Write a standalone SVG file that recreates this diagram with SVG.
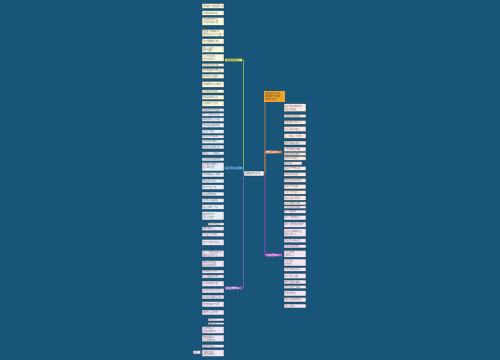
<svg xmlns="http://www.w3.org/2000/svg" width="500" height="360" viewBox="0 0 500 360">
<style>
text{font-family:"Noto Sans CJK SC","Noto Sans",sans-serif;font-size:1.85px;fill:#6a6a6a}
.ly{fill:#fbf9dc;stroke:#24465c;stroke-width:.5}
.lb{fill:#e6eefa;stroke:#24465c;stroke-width:.5}
.lp{fill:#eee6f6;stroke:#24465c;stroke-width:.5}
.lo{fill:#fde9e2;stroke:#24465c;stroke-width:.5}
.lm{fill:#f6e6f4;stroke:#24465c;stroke-width:.5}
.br text{font-size:1.9px;fill:#333}
.cn{fill:none;stroke-width:.6}
</style>
<rect width="500" height="360" fill="#195578"/>
<g id="connectors">
<path class="cn" stroke="#cfdc55" d="M244 173H243.5V60H242"/>
<path class="cn" stroke="#5aa6e0" d="M244 173H243.5V168H242"/>
<path class="cn" stroke="#9b63cf" d="M244 173H243.5V288H242"/>
<path class="cn" stroke="#f2a22a" d="M264 173H265V102"/>
<path class="cn" stroke="#e8764a" d="M264 173H265V152"/>
<path class="cn" stroke="#c64fc9" d="M264 173H265V255"/>
<path class="cn" stroke="#9b63cf" stroke-width=".4" d="M202 353H200.7"/>
</g>
<g id="center"><rect x="244" y="171" width="20" height="5" fill="#f5f5f5" stroke="#1c3b50" stroke-width=".5"/><text x="245.5" y="174.2" style="fill:#333">经典情感句子精选</text></g>
<g id="b1" class="br"><rect x="225" y="58.7" width="17" height="2.6" fill="#dfe85e"/><text x="226" y="60.6">温暖治愈的句子</text></g>
<g id="b2" class="br"><rect x="225" y="166.7" width="17" height="2.6" fill="#5aa6e0"/><text x="226" y="168.6">伤感走心的句子</text></g>
<g id="b3" class="br"><rect x="225" y="286.7" width="17" height="2.6" fill="#9b63cf"/><text x="226" y="288.6" style="fill:#fff">励志正能量句子</text></g>
<g id="b4" class="br"><rect x="264" y="91" width="21" height="11" fill="#f2a22a"/><text x="265" y="94">经典情感句子精选</text><text x="265" y="96.8">收录温暖与伤感的</text><text x="265" y="99.6">优美句子合集</text></g>
<g id="b5" class="br"><rect x="265" y="150.7" width="17" height="2.6" fill="#e8764a"/><text x="266" y="152.6" style="fill:#fff">唯美爱情的句子</text></g>
<g id="b6" class="br"><rect x="265" y="253.7" width="17" height="2.6" fill="#c64fc9"/><text x="266" y="255.6" style="fill:#fff">人生感悟的句子</text></g>
<g id="L1"><rect class="ly" x="202" y="3.5" width="22" height="5"/><text x="203" y="6.6">愿你被这个世界温柔以待</text></g>
<g id="L2"><rect class="ly" x="202" y="10.7" width="22" height="4.6"/><text x="203" y="13.6">心有所向必有精进</text></g>
<g id="L3"><rect class="ly" x="202" y="17.3" width="22" height="8"/><text x="203" y="20.3">生活明朗万物可爱</text><text x="203" y="23.3">人间值得未来可期</text></g>
<g id="L4"><rect class="ly" x="202" y="29.3" width="22" height="7.4"/><text x="203" y="32.2">慢慢来一切都来得及</text><text x="203" y="35">温柔的人运气不会太差</text></g>
<g id="L5"><rect class="ly" x="202" y="38.7" width="22" height="5.3"/><text x="203" y="42">今天也要做快乐的人</text></g>
<g id="L6"><rect class="ly" x="202" y="46" width="22" height="6.7"/><text x="203" y="48.8">把日子过成诗</text><text x="203" y="51.4">简单而温暖</text></g>
<g id="L7"><rect class="ly" x="202" y="54" width="22" height="7.3"/><text x="203" y="56.9">星光不问赶路人</text><text x="203" y="59.7">时光不负有心人</text></g>
<g id="L8"><rect class="ly" x="202" y="63.3" width="22" height="3.4"/><text x="203" y="65.6">保持热爱奔赴山海</text></g>
<g id="L9"><rect class="ly" x="202" y="68.3" width="22" height="4.4"/><text x="203" y="71.1">所有美好都会如期而至</text></g>
<g id="L10"><rect class="ly" x="202" y="74" width="22" height="4.7"/><text x="203" y="77">晚风温柔月色很美</text></g>
<g id="L11"><rect class="ly" x="202" y="81.3" width="22" height="6"/><text x="203" y="84.9">愿你眼里有光心中有爱</text></g>
<g id="L12"><rect class="ly" x="202" y="89.7" width="22" height="3.3"/><text x="203" y="92">岁月静好现世安稳</text></g>
<g id="L13"><rect class="ly" x="202" y="95" width="22" height="4.7"/><text x="203" y="98">你若安好便是晴天</text></g>
<g id="L14"><rect class="ly" x="202" y="101" width="22" height="5.3"/><text x="203" y="104.3">心若向阳无畏悲伤</text></g>
<g id="L15"><rect class="lb" x="202" y="108.3" width="22" height="3.4"/><text x="203" y="110.6">后来的我们各自安好</text></g>
<g id="L16"><rect class="lb" x="202" y="113" width="22" height="3.3"/><text x="203" y="115.3">有些人注定只是过客</text></g>
<g id="L17"><rect class="lb" x="202" y="117.6" width="22" height="4"/><text x="203" y="120.2">满身疲惫却无人诉说</text></g>
<g id="L18"><rect class="lb" x="202" y="123" width="22" height="4.7"/><text x="203" y="126">笑着说出最难过的话</text></g>
<g id="L19"><rect class="lb" x="202" y="129.7" width="22" height="4"/><text x="203" y="132.3">回忆是一座桥</text></g>
<g id="L20"><rect class="lb" x="202" y="135" width="22" height="3.3"/><text x="203" y="137.3">再也回不去的从前</text></g>
<g id="L21"><rect class="lb" x="202" y="139.7" width="22" height="4"/><text x="203" y="142.3">失望攒够了就离开了</text></g>
<g id="L22"><rect class="lb" x="202" y="145" width="22" height="4"/><text x="203" y="147.6">你的名字是我的心事</text></g>
<g id="L23"><rect class="lb" x="202" y="151.7" width="22" height="3.3"/><text x="203" y="154">终究是一个人的故事</text></g>
<g id="L24"><rect class="lb" x="202" y="157.7" width="22" height="3.3"/><text x="203" y="160">不是所有等待都有结果</text></g>
<g id="L25"><rect class="lb" x="202" y="162.3" width="22" height="8.7"/><text x="203" y="165.4">我们都是孤独的人</text><text x="203" y="168.4">在人海里走散</text></g>
<g id="L26"><rect class="lb" x="202" y="172.3" width="22" height="4.7"/><text x="203" y="175.3">深夜的眼泪无人知晓</text></g>
<g id="L27"><rect class="lb" x="202" y="179" width="22" height="4"/><text x="203" y="181.6">原来真的会忘记</text></g>
<g id="L28"><rect class="lb" x="202" y="184.7" width="22" height="4.8"/><text x="203" y="187.7">时间会带走一切</text></g>
<g id="L29"><rect class="lb" x="202" y="192" width="22" height="4"/><text x="203" y="194.6">我还在原地等你</text></g>
<g id="L30"><rect class="lb" x="202" y="198.5" width="22" height="4"/><text x="203" y="201.1">心碎的声音很安静</text></g>
<g id="L31"><rect class="lb" x="202" y="204.5" width="22" height="4.8"/><text x="203" y="207.5">错过了就是一辈子</text></g>
<g id="L32"><rect class="lb" x="202" y="211.5" width="22" height="8.5"/><text x="203" y="214.5">热闹是他们的</text><text x="203" y="217.5">我什么也没有</text></g>
<g id="L33"><rect class="lp" x="208" y="222.7" width="16" height="2.6"/><text x="209" y="224.6">努力才有希望</text></g>
<g id="L34"><rect class="lp" x="202" y="226.7" width="22" height="4"/><text x="203" y="229.3">越努力越幸运</text></g>
<g id="L35"><rect class="lp" x="202" y="232.7" width="22" height="4"/><text x="203" y="235.3">不负韶华只争朝夕</text></g>
<g id="L36"><rect class="lp" x="202" y="239.3" width="22" height="6"/><text x="203" y="242.9">坚持下去终会看见光</text></g>
<g id="L37"><rect class="lp" x="202" y="250.3" width="22" height="6.7"/><text x="203" y="253.1">每一个不曾起舞的日子</text><text x="203" y="255.7">都是对生命的辜负</text></g>
<g id="L38"><rect class="lp" x="202" y="260.5" width="22" height="6.5"/><text x="203" y="263.2">前路漫漫亦灿灿</text><text x="203" y="265.8">往事堪堪亦澜澜</text></g>
<g id="L39"><rect class="lp" x="202" y="270" width="22" height="3.3"/><text x="203" y="272.3">乾坤未定皆是黑马</text></g>
<g id="L40"><rect class="lp" x="202" y="274.8" width="22" height="3.3"/><text x="203" y="277.1">行而不辍未来可期</text></g>
<g id="L41"><rect class="lp" x="202" y="281" width="22" height="5.5"/><text x="203" y="284.4">心之所向素履以往</text></g>
<g id="L42"><rect class="lp" x="202" y="288.4" width="22" height="4.6"/><text x="203" y="291.4">追光的人终会光芒万丈</text></g>
<g id="L43"><rect class="lp" x="202" y="295" width="22" height="4"/><text x="203" y="297.6">逆风的方向更适合飞翔</text></g>
<g id="L44"><rect class="lp" x="202" y="301.5" width="22" height="5.5"/><text x="203" y="304.9">所有努力都不会白费</text></g>
<g id="L45"><rect class="lp" x="202" y="310" width="22" height="5"/><text x="203" y="313.2">相信自己无所不能</text></g>
<g id="L46"><rect class="lp" x="208" y="318.2" width="16" height="2.8"/><text x="209" y="320.2">加油少年</text></g>
<g id="L47"><rect class="lp" x="208" y="322.5" width="16" height="2.2"/><text x="209" y="324.2">勇往直前</text></g>
<g id="L48"><rect class="lp" x="202" y="326.5" width="22" height="7"/><text x="203" y="329.3">生活原本沉闷</text><text x="203" y="332.1">但跑起来就有风</text></g>
<g id="L49"><rect class="lp" x="202" y="335" width="22" height="6.8"/><text x="203" y="337.8">你要悄悄拔尖</text><text x="203" y="340.6">然后惊艳所有人</text></g>
<g id="L50"><rect class="lp" x="202" y="344.5" width="22" height="3.3"/><text x="203" y="346.8">梦想终会实现</text></g>
<g id="L51"><rect class="lp" x="202" y="349.8" width="22" height="6.7"/><text x="203" y="352.6">不要停下脚步</text><text x="203" y="355.2">向着目标前进</text></g>
<g id="L52"><rect class="lp" x="193" y="350.5" width="7.7" height="3.5"/><text x="194" y="352.9">坚持</text></g>
<g id="R1"><rect class="lo" x="284" y="103.7" width="22" height="8"/><text x="285" y="106.7">遇见你是最美的意外</text><text x="285" y="109.7">余生请多指教</text></g>
<g id="R2"><rect class="lo" x="284" y="114.3" width="22" height="3.4"/><text x="285" y="116.6">喜欢你是我的秘密</text></g>
<g id="R3"><rect class="lo" x="284" y="120.3" width="22" height="4"/><text x="285" y="122.9">我想和你一起看星星</text></g>
<g id="R4"><rect class="lo" x="284" y="126.3" width="22" height="5.4"/><text x="285" y="129.6">山河远阔人间烟火</text></g>
<g id="R5"><rect class="lo" x="284" y="133.7" width="22" height="4.6"/><text x="285" y="136.7">无一是你无一不是你</text></g>
<g id="R6"><rect class="lo" x="284" y="141" width="22" height="4"/><text x="285" y="143.6">你是我的满心欢喜</text></g>
<g id="R7"><rect class="lo" x="284" y="147" width="22" height="4.7"/><text x="285" y="150">三餐四季温柔有趣</text></g>
<g id="R8"><rect class="lo" x="284" y="152.3" width="22" height="3.4"/><text x="285" y="154.6">陪你从校服到婚纱</text></g>
<g id="R9"><rect class="lo" x="284" y="156.3" width="22" height="4"/><text x="285" y="158.9">见你时风也温柔</text></g>
<g id="R10"><rect class="lo" x="284" y="161.7" width="18" height="3.3"/><text x="285" y="164">你是例外</text></g>
<g id="R11"><rect class="lo" x="284" y="166.3" width="22" height="4"/><text x="285" y="168.9">月亮不会奔你而来</text></g>
<g id="R12"><rect class="lo" x="284" y="172.3" width="22" height="4"/><text x="285" y="174.9">今晚的月色真美</text></g>
<g id="R13"><rect class="lo" x="284" y="178.3" width="22" height="4"/><text x="285" y="180.9">想把世界最好的给你</text></g>
<g id="R14"><rect class="lo" x="284" y="184.3" width="22" height="4.7"/><text x="285" y="187.3">春风十里不如你</text></g>
<g id="R15"><rect class="lo" x="284" y="190.3" width="22" height="4"/><text x="285" y="192.9">一生一世一双人</text></g>
<g id="R16"><rect class="lo" x="284" y="195.7" width="22" height="4.6"/><text x="285" y="198.7">往后余生风雪是你</text></g>
<g id="R17"><rect class="lo" x="284" y="201.7" width="22" height="3.3"/><text x="285" y="204">平淡是你繁华是你</text></g>
<g id="R18"><rect class="lm" x="284" y="205.8" width="22" height="2.9"/><text x="285" y="207.9">人生没有白走的路</text></g>
<g id="R19"><rect class="lm" x="284" y="210" width="22" height="3.3"/><text x="285" y="212.3">每一步都算数</text></g>
<g id="R20"><rect class="lm" x="284" y="215.3" width="22" height="4.7"/><text x="285" y="218.3">看淡一切才能看开</text></g>
<g id="R21"><rect class="lm" x="284" y="222" width="22" height="5.3"/><text x="285" y="225.3">成年人的世界没有容易</text></g>
<g id="R22"><rect class="lm" x="284" y="228.7" width="22" height="8"/><text x="285" y="231.7">生活不止眼前的苟且</text><text x="285" y="234.7">还有诗和远方</text></g>
<g id="R23"><rect class="lm" x="284" y="238.7" width="22" height="4"/><text x="285" y="241.3">知足常乐随遇而安</text></g>
<g id="R24"><rect class="lm" x="284" y="244.7" width="22" height="3.3"/><text x="285" y="247">时间是最好的答案</text></g>
<g id="R25"><rect class="lm" x="284" y="250.3" width="22" height="7"/><text x="285" y="253.1">人生如逆旅</text><text x="285" y="255.9">我亦是行人</text></g>
<g id="R26"><rect class="lm" x="284" y="259" width="22" height="7"/><text x="285" y="261.8">凡是过往</text><text x="285" y="264.6">皆为序章</text></g>
<g id="R27"><rect class="lm" x="284" y="267.5" width="22" height="3.8"/><text x="285" y="270">得之我幸失之我命</text></g>
<g id="R28"><rect class="lm" x="284" y="273.3" width="22" height="5.4"/><text x="285" y="276.6">学会与自己和解</text></g>
<g id="R29"><rect class="lm" x="284" y="280" width="22" height="4"/><text x="285" y="282.6">简单生活快乐就好</text></g>
<g id="R30"><rect class="lm" x="284" y="285.3" width="22" height="3.4"/><text x="285" y="287.6">不念过往不畏将来</text></g>
<g id="R31"><rect class="lm" x="284" y="290.7" width="22" height="5.3"/><text x="285" y="293.9">万物皆有裂痕</text></g>
<g id="R32"><rect class="lm" x="284" y="297.3" width="22" height="4.7"/><text x="285" y="300.3">那是光照进来的地方</text></g>
<g id="R33"><rect class="lm" x="284" y="304" width="22" height="4"/><text x="285" y="306.6">且行且珍惜</text></g>
</svg>
